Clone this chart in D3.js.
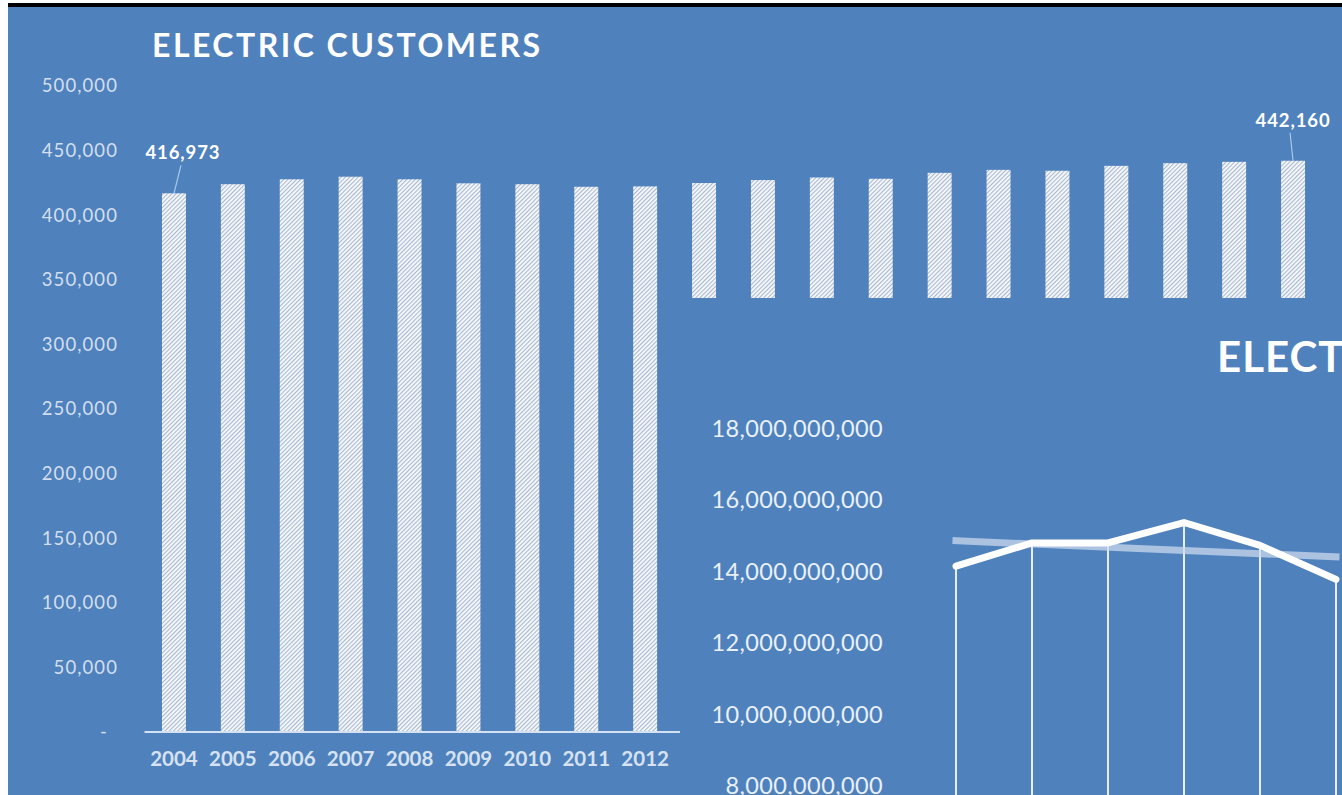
<!DOCTYPE html>
<html>
<head>
<meta charset="utf-8">
<script src="https://cdn.jsdelivr.net/npm/d3@7"></script>
<style>
  html, body { margin: 0; padding: 0; background: #ffffff; overflow: hidden; }
  svg { display: block; }
  text { font-family: Lato, "Open Sans", sans-serif; }
</style>
</head>
<body>
<svg id="chart" width="1342" height="795"></svg>
<script>
// ---- Electric customers (bar chart) ----
const years = ["2004","2005","2006","2007","2008","2009","2010","2011","2012","2013",
               "2014","2015","2016","2017","2018","2019","2020","2021","2022","2023"];
const customers = [416973, 424000, 427800, 429800, 427800, 424700, 424000, 422000, 422300, 424900,
                   427200, 429200, 428200, 432800, 435100, 434400, 438200, 440300, 441300, 442160];
const customerTicks = [0, 50000, 100000, 150000, 200000, 250000, 300000, 350000, 400000, 450000, 500000];
const labelledYears = ["2004", "2023"];

// ---- Electric sales in kWh (line chart with linear trend) ----
const salesYears = ["2004","2005","2006","2007","2008","2009"];
const sales = [14.15e9, 14.80e9, 14.80e9, 15.37e9, 14.73e9, 13.78e9];
const trendYears = ["2004", "2009"];
const salesTrend = [14.86e9, 14.41e9];
const salesTicks = [8e9, 10e9, 12e9, 14e9, 16e9, 18e9];

const BLUE = "#4f81bd";
const svg = d3.select("#chart");

// page frame
svg.append("rect").attr("x", 8).attr("y", 3).attr("width", 1334).attr("height", 792).attr("fill", BLUE);
svg.append("rect").attr("x", 8).attr("y", 3).attr("width", 1334).attr("height", 4).attr("fill", "#000");

// diagonal hatch used for the customer bars
const defs = svg.append("defs");
const hatch = defs.append("pattern")
  .attr("id", "hatch")
  .attr("patternUnits", "userSpaceOnUse")
  .attr("width", 3).attr("height", 3)
  .attr("patternTransform", "rotate(45)");
hatch.append("rect").attr("width", 3).attr("height", 3).attr("fill", "#f6f9fd");
hatch.append("rect").attr("width", 1.1).attr("height", 3).attr("fill", "#a9b8cd");

// ===== Chart 1: ELECTRIC CUSTOMERS =====
const x1 = d3.scaleBand().domain(years).range([144.5, 144.5 + 20 * 58.9])
  .paddingInner(0.593).paddingOuter(0.2965);
const y1 = d3.scaleLinear().domain([0, 500000]).range([732, 86]);

const c1 = svg.append("g");

c1.append("text")
  .attr("x", 152).attr("y", 57)
  .attr("font-size", 32).attr("font-weight", 700)
  .attr("fill", "#ffffff")
  .attr("textLength", 388).attr("lengthAdjust", "spacing")
  .text("ELECTRIC  CUSTOMERS");

// y axis labels
const yAxis1 = d3.axisLeft(y1).tickValues(customerTicks).tickSize(0).tickPadding(0)
  .tickFormat(d => d === 0 ? "-" : d3.format(",")(d));
const gy1 = c1.append("g").attr("transform", "translate(118,0)").call(yAxis1);
gy1.select(".domain").remove();
gy1.selectAll("text")
  .attr("font-family", "Lato, 'Open Sans', sans-serif")
  .attr("font-size", 18.5)
  .attr("letter-spacing", 1.1)
  .attr("fill", "#d3dfef")
  .attr("dx", d => d === 0 ? -10 : 0);

// bars
c1.append("g").selectAll("rect")
  .data(years.map((yr, i) => ({ yr, v: customers[i] })))
  .join("rect")
  .attr("x", d => x1(d.yr))
  .attr("y", d => y1(d.v))
  .attr("width", x1.bandwidth())
  .attr("height", d => y1(0) - y1(d.v))
  .attr("fill", "url(#hatch)");

// baseline
c1.append("line")
  .attr("x1", x1.range()[0]).attr("x2", x1.range()[1])
  .attr("y1", y1(0)).attr("y2", y1(0))
  .attr("stroke", "#d3e1f2").attr("stroke-width", 2);

// x axis labels
const xAxis1 = d3.axisBottom(x1).tickSize(0).tickPadding(0);
const gx1 = c1.append("g").attr("transform", `translate(0,${y1(0)})`).call(xAxis1);
gx1.select(".domain").remove();
gx1.selectAll("text")
  .attr("font-family", "Lato, 'Open Sans', sans-serif")
  .attr("font-size", 20.5).attr("font-weight", 700)
  .attr("fill", "#d6e2f1")
  .attr("dy", null).attr("y", 26)
  .attr("dominant-baseline", "central");

// value callouts with leader lines
const callout = { "2004": { dx: 9, lx: 7 }, "2023": { dx: 0, lx: -3 } };
const cg = c1.append("g");
labelledYears.forEach(yr => {
  const i = years.indexOf(yr);
  const cx = x1(yr) + x1.bandwidth() / 2;
  const top = y1(customers[i]);
  const o = callout[yr];
  cg.append("line")
    .attr("x1", cx).attr("y1", top)
    .attr("x2", cx + o.lx).attr("y2", top - 28)
    .attr("stroke", "#a9c8ea").attr("stroke-width", 1.2);
  cg.append("text")
    .attr("x", cx + o.dx).attr("y", top - 41)
    .attr("text-anchor", "middle").attr("dominant-baseline", "central")
    .attr("font-size", 18.5).attr("font-weight", 700)
    .attr("letter-spacing", 0.9)
    .attr("fill", "#ffffff")
    .text(d3.format(",")(customers[i]));
});

// ===== Chart 2: ELECTRIC SALES (overlapping panel) =====
svg.append("rect").attr("x", 680).attr("y", 298).attr("width", 662).attr("height", 497).attr("fill", BLUE);

const c2 = svg.append("g");
const x2 = d3.scalePoint().domain(years).range([956, 956 + 19 * 76]);
const y2 = d3.scaleLinear().domain([6e9, 18e9]).range([857.5, 428.5]);

c2.append("text")
  .attr("x", 1217).attr("y", 372)
  .attr("font-size", 42).attr("font-weight", 700)
  .attr("letter-spacing", 1)
  .attr("fill", "#ffffff")
  .text("ELECTRIC SALES");

const yAxis2 = d3.axisLeft(y2).tickValues(salesTicks).tickSize(0).tickPadding(0)
  .tickFormat(d3.format(","));
const gy2 = c2.append("g").attr("transform", "translate(883,0)").call(yAxis2);
gy2.select(".domain").remove();
gy2.selectAll("text")
  .attr("font-family", "Lato, 'Open Sans', sans-serif")
  .attr("font-size", 23.5)
  .attr("letter-spacing", 0.4)
  .attr("fill", "#e9f0f9");

// drop lines from each point to the floor of the plot
c2.append("g").selectAll("line")
  .data(salesYears.map((yr, i) => ({ yr, v: sales[i] })))
  .join("line")
  .attr("x1", d => x2(d.yr)).attr("x2", d => x2(d.yr))
  .attr("y1", d => y2(d.v)).attr("y2", y2(6e9))
  .attr("stroke", "#e6eef8").attr("stroke-width", 2);

// linear trend
c2.append("path")
  .datum(trendYears.map((yr, i) => ({ yr, v: salesTrend[i] })))
  .attr("d", d3.line().x(d => x2(d.yr)).y(d => y2(d.v)))
  .attr("fill", "none")
  .attr("stroke", "#c9d9ee").attr("stroke-opacity", 0.75)
  .attr("stroke-width", 7).attr("stroke-linecap", "square");

// sales line
c2.append("path")
  .datum(salesYears.map((yr, i) => ({ yr, v: sales[i] })))
  .attr("d", d3.line().x(d => x2(d.yr)).y(d => y2(d.v)))
  .attr("fill", "none")
  .attr("stroke", "#ffffff")
  .attr("stroke-width", 7)
  .attr("stroke-linejoin", "round").attr("stroke-linecap", "round");
</script>
</body>
</html>
